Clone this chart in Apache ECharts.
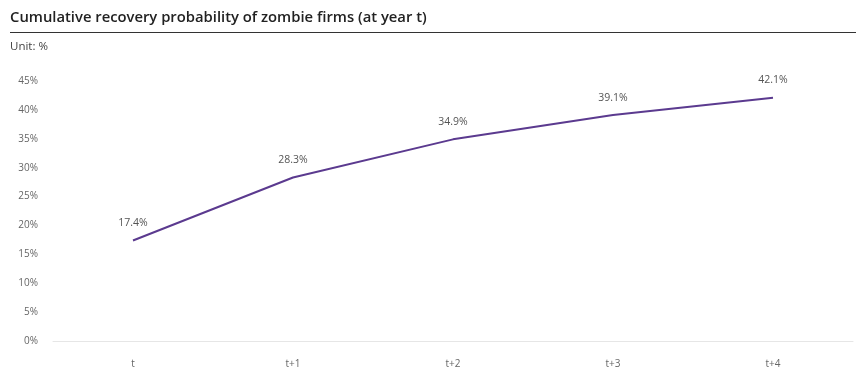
<!DOCTYPE html>
<html><head><meta charset="utf-8">
<script src="https://cdn.jsdelivr.net/npm/echarts@6/dist/echarts.min.js"></script>
<style>html,body{margin:0;padding:0;background:#fff}#c{width:856px;height:369px}</style>
</head><body><div id="c"></div>
<script>
const categories = ['t', 't+1', 't+2', 't+3', 't+4'];
const recovery = [17.4, 28.3, 34.9, 39.1, 42.1];
const chart = echarts.init(document.getElementById('c'), null, {renderer: 'canvas'});
chart.setOption({
  animation: false,
  backgroundColor: '#fff',
  title: {
    text: 'Cumulative recovery probability of zombie firms (at year t)',
    left: 10, top: 10, padding: 0,
    textStyle: {fontFamily: 'Open Sans', fontSize: 14.8, fontWeight: 600, color: '#222'},
    subtext: 'Unit: %',
    subtextStyle: {fontFamily: 'Open Sans', fontSize: 11.5, color: '#444'},
    itemGap: 16
  },
  graphic: [{type: 'line', shape: {x1: 10, y1: 32.5, x2: 856, y2: 32.5}, style: {stroke: '#333', lineWidth: 1}}],
  grid: {left: 53, right: 3, top: 81, bottom: 20, containLabel: false},
  xAxis: {
    type: 'category', data: categories, boundaryGap: true,
    axisLine: {lineStyle: {color: '#e6e6e6', width: 1}},
    axisTick: {show: false},
    axisLabel: {fontFamily: 'Open Sans', fontSize: 10, color: '#666', margin: 18}
  },
  yAxis: {
    type: 'value', min: 0, max: 45, interval: 5,
    axisLine: {show: false}, axisTick: {show: false},
    splitLine: {show: false},
    axisLabel: {formatter: '{value}%', fontFamily: 'Open Sans', fontSize: 10, color: '#666', margin: 15}
  },
  series: [{
    type: 'line', data: recovery, symbol: 'circle', symbolSize: 2, showSymbol: true,
    itemStyle: {color: 'rgba(0,0,0,0)', borderWidth: 0},
    lineStyle: {color: '#5b3a8f', width: 2},
    label: {show: true, position: 'top', distance: 11, formatter: '{c}%', fontFamily: 'Open Sans', fontSize: 10.5, color: '#555'}
  }]
});
</script></body></html>
